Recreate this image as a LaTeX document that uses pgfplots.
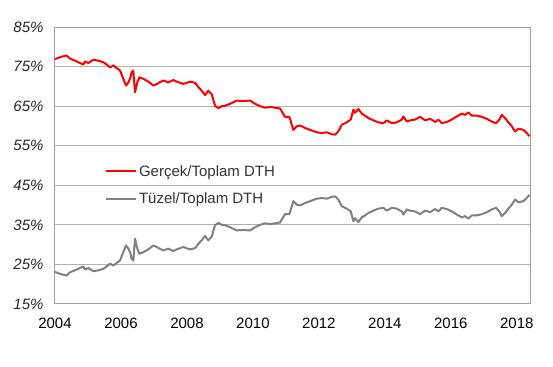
\documentclass[border=0pt]{standalone}
\usepackage{fontspec}
\setmainfont{Liberation Sans}
\usepackage{pgfplots}
\pgfplotsset{compat=1.18}
\usepackage{pgfplotstable}
\definecolor{grayline}{RGB}{128,128,128}
\definecolor{gridc}{RGB}{175,175,175}
\definecolor{framec}{RGB}{160,160,160}

\pgfplotstableread{
x y
2004.00 76.8
2004.03 77.0
2004.20 77.5
2004.355 77.8
2004.455 77.0
2004.658 76.3
2004.858 75.5
2004.91 76.3
2005.01 75.9
2005.161 76.7
2005.313 76.5
2005.465 76.1
2005.568 75.5
2005.668 74.8
2005.768 75.3
2005.871 74.6
2005.971 74.0
2006.053 72.3
2006.153 70.2
2006.223 71.0
2006.274 71.9
2006.326 73.6
2006.374 74.0
2006.426 68.5
2006.495 71.0
2006.556 72.3
2006.677 71.9
2006.829 71.2
2006.981 70.2
2007.084 70.6
2007.284 71.5
2007.435 71.0
2007.587 71.6
2007.69 71.2
2007.89 70.6
2008.093 71.2
2008.245 70.9
2008.345 69.8
2008.448 68.9
2008.548 67.8
2008.648 68.9
2008.751 68.0
2008.851 65.1
2008.952 64.5
2009.055 65.0
2009.155 65.1
2009.306 65.6
2009.509 66.4
2009.661 66.3
2009.913 66.4
2010.064 65.6
2010.216 65.0
2010.368 64.6
2010.519 64.8
2010.671 64.6
2010.822 64.4
2010.974 62.3
2011.104 62.3
2011.226 59.0
2011.329 59.9
2011.429 60.1
2011.580 59.5
2011.732 59.0
2011.935 58.4
2012.087 58.2
2012.238 58.4
2012.390 57.9
2012.490 57.8
2012.590 58.6
2012.693 60.3
2012.845 60.9
2012.966 61.6
2013.045 64.1
2013.096 63.3
2013.197 64.3
2013.300 63.1
2013.400 62.6
2013.500 62.0
2013.651 61.4
2013.803 60.9
2013.955 60.7
2014.058 61.4
2014.209 60.7
2014.361 60.9
2014.513 61.6
2014.561 62.4
2014.664 61.1
2014.764 61.4
2014.916 61.6
2015.067 62.3
2015.219 61.4
2015.371 61.8
2015.522 61.0
2015.622 61.6
2015.725 60.7
2015.877 61.0
2016.028 61.6
2016.180 62.4
2016.332 63.1
2016.432 62.8
2016.532 63.4
2016.635 62.6
2016.787 62.6
2016.938 62.3
2017.090 61.8
2017.241 61.1
2017.372 60.7
2017.472 61.6
2017.545 62.8
2017.645 62.0
2017.745 60.9
2017.848 59.9
2017.948 58.6
2018.048 59.3
2018.200 59.0
2018.303 58.2
2018.382 57.4
}\gercek

\pgfplotstableread{
x y
2004.00 23.2
2004.03 23.0
2004.20 22.5
2004.355 22.2
2004.455 23.0
2004.658 23.7
2004.858 24.5
2004.91 23.7
2005.01 24.1
2005.161 23.3
2005.313 23.5
2005.465 23.9
2005.568 24.5
2005.668 25.2
2005.768 24.7
2005.871 25.4
2005.971 26.0
2006.053 27.7
2006.153 29.8
2006.223 29.0
2006.274 28.1
2006.326 26.4
2006.374 26.0
2006.426 31.5
2006.495 29.0
2006.556 27.7
2006.677 28.1
2006.829 28.8
2006.981 29.8
2007.084 29.4
2007.284 28.5
2007.435 29.0
2007.587 28.4
2007.69 28.8
2007.89 29.4
2008.093 28.8
2008.245 29.1
2008.345 30.2
2008.448 31.1
2008.548 32.2
2008.648 31.1
2008.751 32.0
2008.851 34.9
2008.952 35.5
2009.055 35.0
2009.155 34.9
2009.306 34.4
2009.509 33.6
2009.661 33.7
2009.913 33.6
2010.064 34.4
2010.216 35.0
2010.368 35.4
2010.519 35.2
2010.671 35.4
2010.822 35.6
2010.974 37.7
2011.104 37.7
2011.226 41.0
2011.329 40.1
2011.429 39.9
2011.580 40.5
2011.732 41.0
2011.935 41.6
2012.087 41.8
2012.238 41.6
2012.390 42.1
2012.490 42.2
2012.590 41.4
2012.693 39.7
2012.845 39.1
2012.966 38.4
2013.045 35.9
2013.096 36.7
2013.197 35.7
2013.300 36.9
2013.400 37.4
2013.500 38.0
2013.651 38.6
2013.803 39.1
2013.955 39.3
2014.058 38.6
2014.209 39.3
2014.361 39.1
2014.513 38.4
2014.561 37.6
2014.664 38.9
2014.764 38.6
2014.916 38.4
2015.067 37.7
2015.219 38.6
2015.371 38.2
2015.522 39.0
2015.622 38.4
2015.725 39.3
2015.877 39.0
2016.028 38.4
2016.180 37.6
2016.332 36.9
2016.432 37.2
2016.532 36.6
2016.635 37.4
2016.787 37.4
2016.938 37.7
2017.090 38.2
2017.241 38.9
2017.372 39.3
2017.472 38.4
2017.545 37.2
2017.645 38.0
2017.745 39.1
2017.848 40.1
2017.948 41.4
2018.048 40.7
2018.200 41.0
2018.303 41.8
2018.382 42.6
}\tuzel

\begin{document}
\begin{tikzpicture}
\begin{axis}[
  scale only axis,
  width=475pt, height=277pt,
  xmin=2004, xmax=2018.40,
  ymin=15, ymax=85,
  xtick={2004,2006,2008,2010,2012,2014,2016,2018},
  xticklabels={2004,2006,2008,2010,2012,2014,2016,2018},
  ytick={15,25,35,45,55,65,75,85},
  yticklabels={15\%,25\%,35\%,45\%,55\%,65\%,75\%,85\%},
  ymajorgrids,
  grid style={gridc, line width=1pt},
  axis line style={framec, line width=1pt},
  major tick length=0pt,
  xticklabel style={font=\fontsize{15}{17}\selectfont, black, yshift=-10pt},
  yticklabel style={font=\fontsize{15}{17}\selectfont\itshape, black!85, xshift=-8pt},
  legend style={draw=none, fill=none, at={(0.105,0.509)}, anchor=north west,
    font=\fontsize{15}{17}\selectfont, text=black!80, inner sep=0pt,
    row sep=11pt, /tikz/every even column/.append style={column sep=3pt}},
  legend cell align=left,
  legend image code/.code={\draw[#1] (0pt,0pt) -- (30pt,0pt);},
]
\addplot[red, line width=2pt, line join=round] table[x=x,y=y] {\gercek};
\addlegendentry{Gerçek/Toplam DTH}
\addplot[grayline, line width=2pt, line join=round] table[x=x,y=y] {\tuzel};
\addlegendentry{Tüzel/Toplam DTH}
\end{axis}
\path ([shift={(-55pt,-62pt)}]current axis.south west) rectangle ([shift={(23pt,27pt)}]current axis.north east);
\end{tikzpicture}
\end{document}
